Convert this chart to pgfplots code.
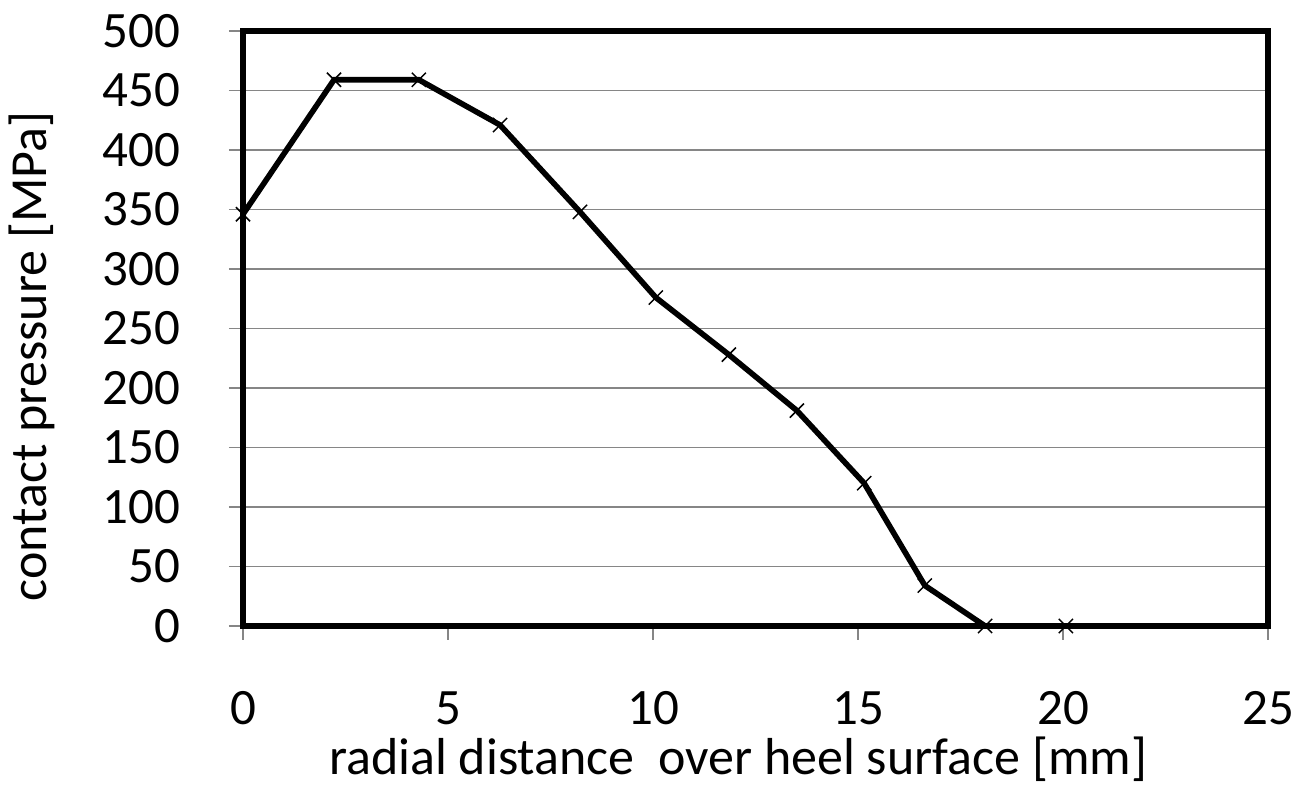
\documentclass[border=0pt]{standalone}
\usepackage{pgfplots}
\pgfplotsset{compat=1.18}
\usepackage{fontspec}
\setmainfont{Carlito}
\definecolor{gridgray}{RGB}{134,134,134}
\begin{document}
\begin{tikzpicture}
\begin{axis}[
  at={(0,0)}, anchor=south west,
  scale only axis,
  width=512.5pt, height=297.5pt,
  xmin=0, xmax=25, ymin=0, ymax=500,
  xtick={0,5,...,25}, ytick={0,50,...,500},
  xtick pos=bottom, ytick pos=left,
  /pgf/number format/assume math mode=true,
  tick label style={font=\fontsize{25.5}{30}\selectfont},
  label style={font=\fontsize{26}{30}\selectfont},
  tick align=outside,
  major tick length=7pt,
  tick style={draw=gridgray, line width=0.75pt},
  ymajorgrids,
  grid style={draw=gridgray, line width=0.75pt},
  axis line style={draw=black, line width=2.9pt},
  xticklabel style={inner sep=0pt, yshift=-25.5pt},
  yticklabel style={xshift=-21pt},
  xlabel={radial distance\ \ over heel surface [mm]},
  ylabel={contact pressure [MPa]},
  xlabel style={at={(axis description cs:0.483,-0.2504)}, anchor=base, inner sep=0pt},
  ylabel style={at={(axis description cs:-0.1766,0.453)}, anchor=south},
  clip=false,
]
\addplot[black, line width=2.8pt, mark=x, mark size=5pt, mark options={line width=0.75pt, solid}] coordinates {
  (0,346) (2.22,459) (4.29,459) (6.27,421) (8.22,348) (10.07,276)
  (11.85,228) (13.51,181) (15.15,120) (16.63,34) (18.1,0) (20.07,0)
};
\end{axis}
\pgfresetboundingbox
\useasboundingbox (-121.5pt,-79.5pt) rectangle (528pt,313pt);
\end{tikzpicture}
\end{document}
